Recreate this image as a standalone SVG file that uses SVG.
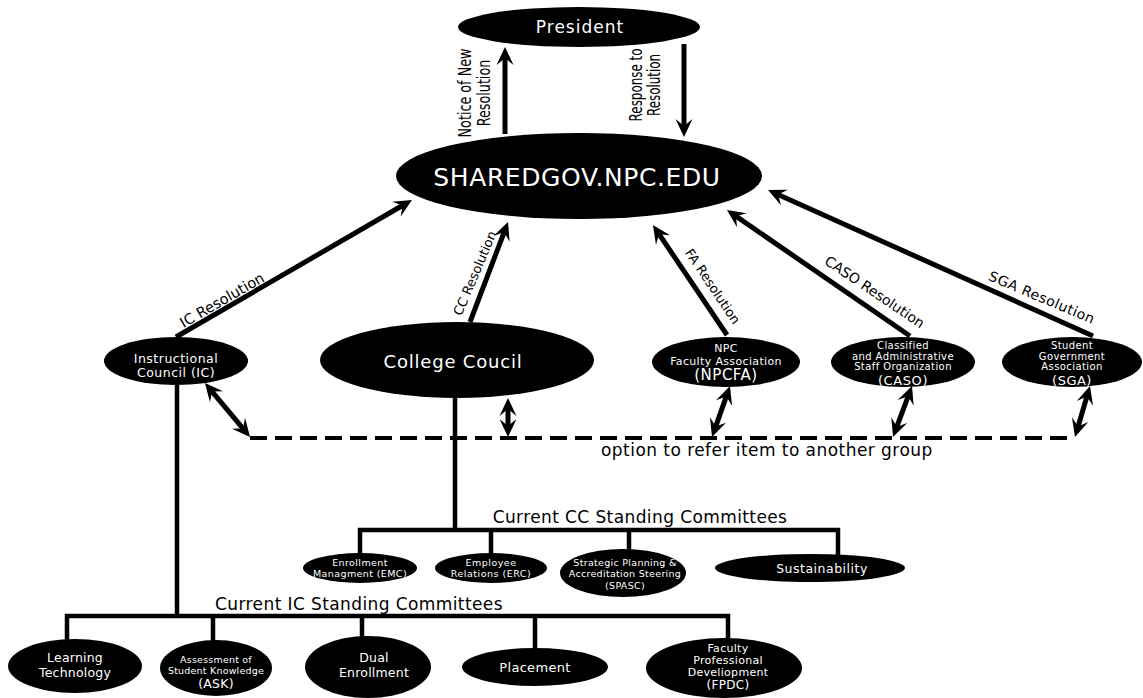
<svg xmlns="http://www.w3.org/2000/svg" width="1143" height="698" viewBox="0 0 1143 698">
<style>
.n{fill:#000}
.w{fill:#fff;font-family:'DejaVu Sans','Liberation Sans',sans-serif;text-anchor:middle}
.k{fill:#000;font-family:'DejaVu Sans','Liberation Sans',sans-serif}
.a{stroke:#000;stroke-width:5;fill:none;marker-end:url(#ah)}
.d{stroke:#000;stroke-width:5;fill:none;marker-end:url(#ah);marker-start:url(#ah)}
.tr{stroke:#000;stroke-width:4.5;fill:none}
.ds{stroke:#000;stroke-width:4;fill:none;stroke-dasharray:17 8}
</style>
<defs>
<marker id="ah" markerUnits="userSpaceOnUse" markerWidth="30" markerHeight="30" refX="0" refY="0" orient="auto-start-reverse" overflow="visible">
<path d="M6,0 L-12,-8.5 L-5,0 L-12,8.5 Z" fill="#000"/>
</marker>
</defs>
<rect width="1143" height="698" fill="#fff"/>

<g id="connectors">
<line class="a" x1="505" y1="134" x2="505" y2="53"/>
<line class="a" x1="684" y1="44" x2="684" y2="131"/>
<line class="a" x1="176" y1="337" x2="406.8" y2="203"/>
<line class="a" x1="470" y1="322" x2="505.9" y2="227.6"/>
<line class="a" x1="727" y1="335" x2="656.3" y2="230"/>
<line class="a" x1="910" y1="336" x2="731.9" y2="213.4"/>
<line class="a" x1="1093" y1="336" x2="773.5" y2="192.5"/>
<line class="ds" x1="250" y1="438" x2="1075" y2="438"/>
<line class="d" x1="208.8" y1="387.6" x2="246.2" y2="432.4"/>
<line class="d" x1="508" y1="404" x2="508" y2="431"/>
<line class="d" x1="728" y1="391.7" x2="714" y2="431.3"/>
<line class="d" x1="909.9" y1="391.6" x2="895.1" y2="431.4"/>
<line class="d" x1="1088.3" y1="391.8" x2="1076.7" y2="431.2"/>
<polyline class="tr" points="455,398 455,530"/>
<polyline class="tr" points="360,560 360,530 838,530 838,560"/>
<polyline class="tr" points="491,530 491,560"/>
<polyline class="tr" points="629,530 629,555"/>
<polyline class="tr" points="177,385 177,616"/>
<polyline class="tr" points="67,645 67,616 728,616 728,640"/>
<polyline class="tr" points="213,616 213,642"/>
<polyline class="tr" points="362,616 362,640"/>
<polyline class="tr" points="535,616 535,650"/>
<text class="k" font-size="17" transform="translate(471,93) rotate(-90) scale(0.75,1)" text-anchor="middle"><tspan x="0" y="0">Notice of New</tspan><tspan x="0" y="19">Resolution</tspan></text>
<text class="k" font-size="17" transform="translate(642,85) rotate(-90) scale(0.7,1)" text-anchor="middle"><tspan x="0" y="0">Response to</tspan><tspan x="0" y="18">Resolution</tspan></text>
<text class="k" font-size="14.5" text-anchor="middle" transform="translate(224.5,304.5) rotate(-30)">IC Resolution</text>
<text class="k" font-size="13" text-anchor="middle" transform="translate(479,275) rotate(-67)">CC Resolution</text>
<text class="k" font-size="13" text-anchor="middle" transform="translate(709,289) rotate(56)">FA Resolution</text>
<text class="k" font-size="14" text-anchor="middle" transform="translate(872,296) rotate(34)">CASO Resolution</text>
<text class="k" font-size="14" letter-spacing="0.5" text-anchor="middle" transform="translate(1040,302) rotate(23)">SGA Resolution</text>
<text class="k" font-size="17" letter-spacing="0.45" x="601" y="456">option to refer item to another group</text>
<text class="k" font-size="17" letter-spacing="0.4" x="640" y="523" text-anchor="middle">Current CC Standing Committees</text>
<text class="k" font-size="17" letter-spacing="0.4" x="359" y="610" text-anchor="middle">Current IC Standing Committees</text>
</g>

<g id="president"><ellipse class="n" cx="579" cy="27" rx="121" ry="20"/><text class="w" x="580" y="33" font-size="17" letter-spacing="1">President</text></g>
<g id="sharedgov"><ellipse class="n" cx="579" cy="176" rx="183" ry="43"/><text class="w" x="577" y="186" font-size="25" letter-spacing="0.6">SHAREDGOV.NPC.EDU</text></g>
<g id="ic"><ellipse class="n" cx="176" cy="361" rx="72" ry="24"/><text class="w" font-size="12.5" letter-spacing="0.5"><tspan x="176" y="363">Instructional</tspan><tspan x="176" y="377">Council (IC)</tspan></text></g>
<g id="cc"><ellipse class="n" cx="457" cy="360" rx="137" ry="38"/><text class="w" x="453" y="368" font-size="18" letter-spacing="0.8">College Coucil</text></g>
<g id="npcfa"><ellipse class="n" cx="726" cy="362" rx="74" ry="25"/><text class="w" font-size="11" letter-spacing="0.35"><tspan x="726" y="352">NPC</tspan><tspan x="726" y="365">Faculty Association</tspan><tspan x="726" y="380" font-size="15" letter-spacing="0.5">(NPCFA)</tspan></text></g>
<g id="caso"><ellipse class="n" cx="903" cy="362" rx="72" ry="25"/><text class="w" font-size="10" letter-spacing="0.4"><tspan x="903" y="349">Classified</tspan><tspan x="903" y="359.5">and Administrative</tspan><tspan x="903" y="370">Staff Organization</tspan><tspan x="903" y="385" font-size="13" letter-spacing="0.6">(CASO)</tspan></text></g>
<g id="sga"><ellipse class="n" cx="1072" cy="362" rx="70" ry="25"/><text class="w" font-size="10" letter-spacing="0.4"><tspan x="1072" y="349">Student</tspan><tspan x="1072" y="359.5">Government</tspan><tspan x="1072" y="370">Association</tspan><tspan x="1072" y="385" font-size="13" letter-spacing="0.5">(SGA)</tspan></text></g>

<g id="emc"><ellipse class="n" cx="360" cy="568" rx="57" ry="15"/><text class="w" font-size="9.5" letter-spacing="0.4"><tspan x="360" y="566">Enrollment</tspan><tspan x="360" y="577">Managment (EMC)</tspan></text></g>
<g id="erc"><ellipse class="n" cx="491" cy="568" rx="56" ry="15"/><text class="w" font-size="9.5" letter-spacing="0.5"><tspan x="491" y="566">Employee</tspan><tspan x="491" y="577">Relations (ERC)</tspan></text></g>
<g id="spasc"><ellipse class="n" cx="623" cy="573" rx="63" ry="24"/><text class="w" font-size="9.5" letter-spacing="0.3"><tspan x="625" y="566">Strategic Planning &amp;</tspan><tspan x="625" y="577">Accreditation Steering</tspan><tspan x="625" y="589">(SPASC)</tspan></text></g>
<g id="sustain"><ellipse class="n" cx="810" cy="568" rx="95" ry="14"/><text class="w" x="822" y="573" font-size="12.5" letter-spacing="0.5">Sustainability</text></g>

<g id="lt"><ellipse class="n" cx="75" cy="666" rx="67" ry="27"/><text class="w" font-size="12.5" letter-spacing="0.2"><tspan x="75" y="662">Learning</tspan><tspan x="75" y="677">Technology</tspan></text></g>
<g id="ask"><ellipse class="n" cx="216" cy="668" rx="56" ry="28"/><text class="w" font-size="9.5" letter-spacing="0.2"><tspan x="216" y="663">Assessment of</tspan><tspan x="216" y="674">Student Knowledge</tspan><tspan x="216" y="688" font-size="12.5">(ASK)</tspan></text></g>
<g id="dual"><ellipse class="n" cx="368" cy="667" rx="63" ry="31"/><text class="w" font-size="12.5" letter-spacing="0.2"><tspan x="374" y="662">Dual</tspan><tspan x="374" y="677">Enrollment</tspan></text></g>
<g id="placement"><ellipse class="n" cx="535" cy="667" rx="73" ry="19"/><text class="w" x="535" y="672" font-size="13" letter-spacing="0.3">Placement</text></g>
<g id="fpdc"><ellipse class="n" cx="724" cy="668" rx="78" ry="30"/><text class="w" font-size="11" letter-spacing="0.3"><tspan x="728" y="652">Faculty</tspan><tspan x="728" y="664">Professional</tspan><tspan x="728" y="676">Develiopment</tspan><tspan x="728" y="689" font-size="12">(FPDC)</tspan></text></g>
</svg>
